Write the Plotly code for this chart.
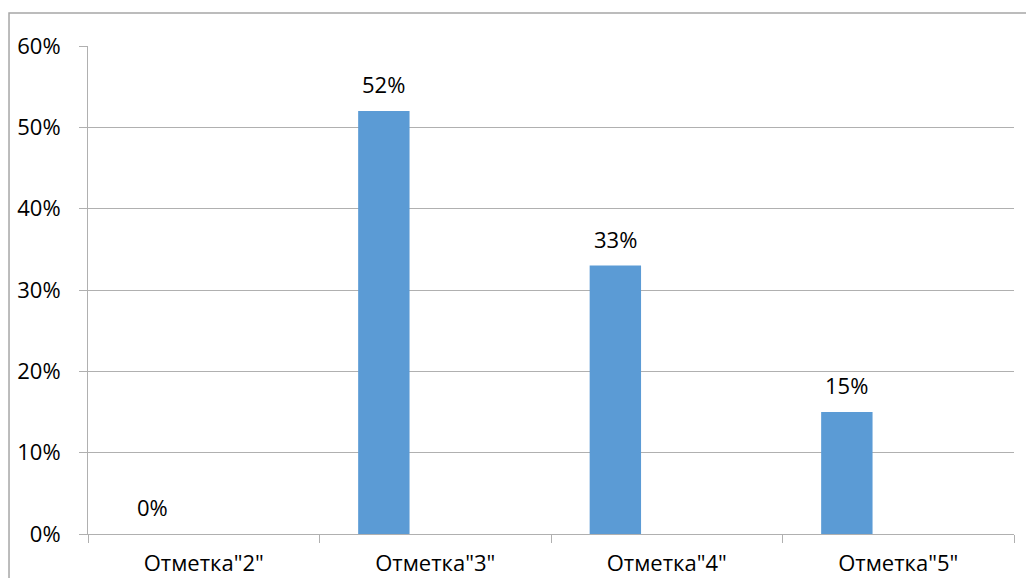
import plotly.graph_objects as go

categories = ['Отметка"2"', 'Отметка"3"', 'Отметка"4"', 'Отметка"5"']
values = [0.00, 0.52, 0.33, 0.15]
value_labels = ["0%", "52%", "33%", "15%"]
y_ticks = [0, 0.1, 0.2, 0.3, 0.4, 0.5, 0.6]
y_tick_labels = ["0%", "10%", "20%", "30%", "40%", "50%", "60%"]

FONT = "Open Sans"
FS = 22
GRID = "#B0B0B0"
BAR_W = 0.222
BAR_OFF = -0.333

fig = go.Figure()
fig.add_trace(go.Bar(
    x=categories, y=values,
    marker=dict(color="#5B9BD5", line=dict(width=0)),
    width=BAR_W, offset=BAR_OFF,
    hoverinfo="skip",
))

for i, (v, t) in enumerate(zip(values, value_labels)):
    fig.add_annotation(
        x=i + BAR_OFF + BAR_W / 2, y=v, xref="x", yref="y",
        text=t, showarrow=False, yanchor="middle", yshift=27,
        font=dict(family=FONT, size=FS, color="#000000"),
    )

# outer chart border (extends beyond the visible area on right/bottom)
fig.add_shape(type="rect", xref="paper", yref="paper",
              x0=-0.0853, x1=1.05, y0=-0.3, y1=1.0676,
              line=dict(color="#A6A6A6", width=1.5), fillcolor="rgba(0,0,0,0)",
              layer="below")

fig.update_layout(
    width=1026, height=578,
    margin=dict(l=88, r=12, t=46, b=44, autoexpand=False),
    paper_bgcolor="white", plot_bgcolor="white",
    showlegend=False,
    font=dict(family=FONT, size=FS, color="#000000"),
    xaxis=dict(
        type="category", tickson="boundaries", ticks="outside", ticklen=8,
        tickcolor=GRID, tickwidth=1, showline=True, linecolor=GRID, linewidth=1,
        showgrid=False, ticklabelstandoff=10, automargin=False,
        tickfont=dict(family=FONT, size=FS, color="#000000"),
    ),
    yaxis=dict(
        range=[0, 0.6], tickvals=y_ticks, ticktext=y_tick_labels,
        ticks="outside", ticklen=8, tickcolor=GRID, tickwidth=1,
        showline=True, linecolor=GRID, linewidth=1,
        showgrid=True, gridcolor=GRID, gridwidth=1, zeroline=False,
        ticklabelstandoff=14, automargin=False,
        tickfont=dict(family=FONT, size=FS, color="#000000"),
    ),
)

fig.write_html("out.html", config={"displayModeBar": False},
               post_script="document.body.style.margin='0';document.body.style.overflow='hidden';")
